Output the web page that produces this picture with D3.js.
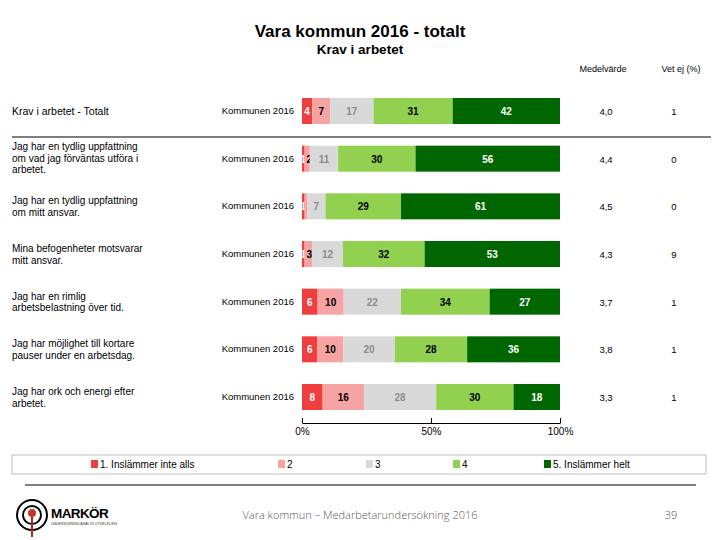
<!DOCTYPE html>
<html><head><meta charset="utf-8">
<script src="https://cdn.jsdelivr.net/npm/d3@7"></script>
<style>body{margin:0;background:#fff;} svg{display:block;font-family:"Liberation Sans",Arial,sans-serif;}</style>
</head><body>
<script>
const title = "Vara kommun 2016 - totalt";
const subtitle = "Krav i arbetet";
const questions = [
  ["Krav i arbetet  - Totalt"],
  ["Jag har en tydlig uppfattning", "om vad jag förväntas utföra i", "arbetet."],
  ["Jag har en tydlig uppfattning", "om mitt ansvar."],
  ["Mina befogenheter motsvarar", "mitt ansvar."],
  ["Jag har en rimlig", "arbetsbelastning över tid."],
  ["Jag har möjlighet till kortare", "pauser under en arbetsdag."],
  ["Jag har ork och energi efter", "arbetet."]
];
const groupLabel = "Kommunen 2016";
const seriesNames = ["1. Inslämmer inte alls", "2", "3", "4", "5. Inslämmer helt"];
const s1 = [4, 1, 1, 1, 6, 6, 8];
const s2 = [7, 2, 1, 3, 10, 10, 16];
const s3 = [17, 11, 7, 12, 22, 20, 28];
const s4 = [31, 30, 29, 32, 34, 28, 30];
const s5 = [42, 56, 61, 53, 27, 36, 18];
const medel = ["4,0", "4,4", "4,5", "4,3", "3,7", "3,8", "3,3"];
const vetEj = ["1", "0", "0", "9", "1", "1", "1"];
const axisTicks = [0, 50, 100];
const colors = ["#ee3e3e", "#f5a3a3", "#d9d9d9", "#92d050", "#006600"];
const labelColors = ["#ffffff", "#000000", "#8c8c8c", "#000000", "#ffffff"];

const W = 720, H = 540;
const svg = d3.select("body").append("svg").attr("width", W).attr("height", H);

svg.append("text").attr("x", 360).attr("y", 37).attr("text-anchor", "middle")
  .attr("font-size", 17).attr("font-weight", "bold").text(title);
svg.append("text").attr("x", 360).attr("y", 54).attr("text-anchor", "middle")
  .attr("font-size", 13.5).attr("font-weight", "bold").text(subtitle);

const series = [s1, s2, s3, s4, s5];
const idx = d3.range(questions.length);
const y = d3.scalePoint().domain(idx).range([111, 397]);
const x = d3.scaleLinear().domain([0, 100]).range([302, 560]);
const barH = 26;

// headers
svg.append("text").attr("x", 603).attr("y", 72).attr("text-anchor", "middle").attr("font-size", 9).text("Medelvärde");
svg.append("text").attr("x", 681).attr("y", 72).attr("text-anchor", "middle").attr("font-size", 9).text("Vet ej (%)");

idx.forEach(i => {
  const cy = y(i);
  const vals = series.map(s => s[i]);
  const tot = d3.sum(vals);
  let cum = 0;
  const g = svg.append("g");
  let lastRight = -Infinity;
  vals.forEach((v, k) => {
    const x0 = x(cum / tot * 100), x1 = x((cum + v) / tot * 100);
    cum += v;
    g.append("rect").attr("x", x0).attr("y", cy - barH / 2).attr("width", x1 - x0).attr("height", barH).attr("fill", colors[k]);
    const lw = String(v).length * 5.6;
    let cx = (x0 + x1) / 2;
    if (cx - lw / 2 < lastRight + 0.5) cx = lastRight + 0.5 + lw / 2;
    lastRight = cx + lw / 2;
    g.append("text").attr("x", cx).attr("y", cy + 4).attr("text-anchor", "middle")
      .attr("font-size", 10).attr("font-weight", "bold").attr("fill", labelColors[k]).text(v);
  });
  // group label
  svg.append("text").attr("x", 294).attr("y", cy + 3).attr("text-anchor", "end").attr("font-size", 9.5).text(groupLabel);
  // question label
  const lines = questions[i];
  const firstOff = lines.length === 1 ? 4 : (lines.length === 3 ? -8.5 : -2);
  const t = svg.append("text").attr("font-size", i === 0 ? 10.5 : 10);
  lines.forEach((ln, j) => {
    t.append("tspan").attr("x", 12).attr("y", cy + firstOff + j * 11.5).text(ln);
  });
  svg.append("text").attr("x", 606).attr("y", cy + 4).attr("text-anchor", "middle").attr("font-size", 9.5).text(medel[i]);
  svg.append("text").attr("x", 674).attr("y", cy + 4).attr("text-anchor", "middle").attr("font-size", 9.5).text(vetEj[i]);
});

// separator under total row
svg.append("line").attr("x1", 12).attr("x2", 711).attr("y1", 137).attr("y2", 137).attr("stroke", "#000").attr("stroke-width", 1.2);

// axis
const axis = d3.axisBottom(x).tickValues(axisTicks).tickFormat(d => d + "%").tickSizeInner(-5).tickSizeOuter(0).tickPadding(5);
const ag = svg.append("g").attr("transform", "translate(0,423)").call(axis);
ag.selectAll("text").attr("font-size", 10).attr("fill", "#000").attr("font-family", "Liberation Sans, Arial, sans-serif");
ag.selectAll("path,line").attr("stroke", "#000");

// legend
svg.append("rect").attr("x", 12).attr("y", 455).attr("width", 694).attr("height", 19).attr("fill", "none").attr("stroke", "#bfbfbf");
const legX = [91, 278, 366, 453, 544];
seriesNames.forEach((n, k) => {
  svg.append("rect").attr("x", legX[k]).attr("y", 460).attr("width", 7).attr("height", 8).attr("fill", colors[k]);
  svg.append("text").attr("x", legX[k] + 9).attr("y", 468).attr("font-size", 10).text(n);
});

// footer
svg.append("line").attr("x1", 25).attr("x2", 696).attr("y1", 485).attr("y2", 485).attr("stroke", "#000").attr("stroke-width", 1);
svg.append("text").attr("x", 360).attr("y", 519).attr("text-anchor", "middle").attr("font-size", 11).attr("fill", "#595959")
  .attr("font-family", "Open Sans, sans-serif").attr("font-weight", 300).text("Vara kommun – Medarbetarundersökning 2016");
svg.append("text").attr("x", 671).attr("y", 519).attr("text-anchor", "middle").attr("font-size", 11).attr("fill", "#595959")
  .attr("font-family", "Open Sans, sans-serif").attr("font-weight", 300).text("39");

// logo
const lg = svg.append("g");
lg.append("circle").attr("cx", 32).attr("cy", 515).attr("r", 15).attr("fill", "none").attr("stroke", "#000").attr("stroke-width", 2);
lg.append("circle").attr("cx", 32).attr("cy", 515).attr("r", 9).attr("fill", "none").attr("stroke", "#000").attr("stroke-width", 2);
lg.append("line").attr("x1", 32).attr("x2", 32).attr("y1", 515).attr("y2", 537).attr("stroke", "#b22222").attr("stroke-width", 2);
lg.append("circle").attr("cx", 32).attr("cy", 513).attr("r", 4).attr("fill", "#c0392b");
lg.append("text").attr("x", 51).attr("y", 518).attr("font-size", 13.5).attr("font-weight", "bold")
  .attr("font-family", "Liberation Sans, Arial, sans-serif").attr("letter-spacing", -0.6).text("MARKÖR");
lg.append("text").attr("x", 51).attr("y", 525).attr("font-size", 3.5).attr("fill", "#333").text("UNDERSÖKNING  ANALYS  UTVECKLING");
</script>
</body></html>
